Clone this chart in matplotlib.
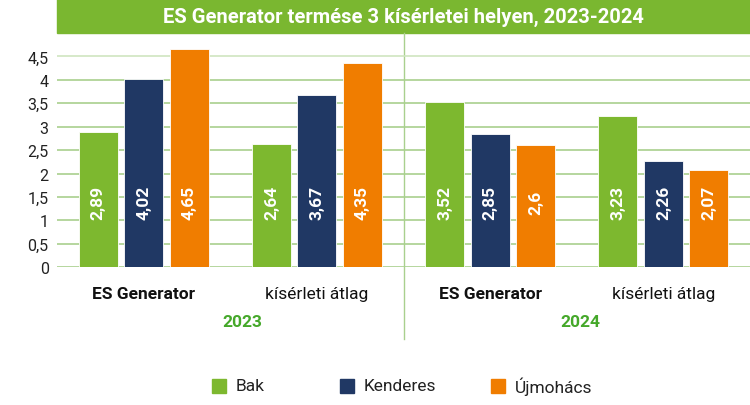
import matplotlib.pyplot as plt
from matplotlib.patches import Rectangle
from matplotlib.transforms import blended_transform_factory
import numpy as np

plt.rcParams['font.family'] = ['Roboto', 'DejaVu Sans']

title = "ES Generator termése 3 kísérletei helyen, 2023-2024"
categories = ["ES Generator", "kísérleti átlag", "ES Generator", "kísérleti átlag"]
years = ["2023", "2024"]
series = ["Bak", "Kenderes", "Újmohács"]
values = {
    "Bak": [2.89, 2.64, 3.52, 3.23],
    "Kenderes": [4.02, 3.67, 2.85, 2.26],
    "Újmohács": [4.65, 4.35, 2.60, 2.07],
}
yticks = [0, 0.5, 1, 1.5, 2, 2.5, 3, 3.5, 4, 4.5]

colors = ["#7db82f", "#203864", "#f07d00"]
green_title = "#7ab730"
grid_color = "#a9d08e"
year_color = "#45a82a"

W, H = 750, 406
fig = plt.figure(figsize=(W / 100, H / 100), dpi=100)
ax = fig.add_axes([57 / W, 1 - 268.3 / H, 1 - 57 / W, 225 / H])

x = np.arange(len(categories))
bw = 0.225
step = 0.262
for i, name in enumerate(series):
    xs = x + (i - 1) * step
    ax.bar(xs, values[name], width=bw, color=colors[i], edgecolor="white",
           linewidth=0.6, zorder=3)
    for xx, v in zip(xs, values[name]):
        lab = f"{v:g}".replace(".", ",")
        ax.text(xx, 1.4, lab, rotation=90, ha="center", va="center",
                color="white", fontsize=12.5, fontweight="bold", zorder=4)

ax.set_xlim(-0.5, 3.5)
ax.set_ylim(0, 4.8)
ax.set_yticks(yticks)
ax.set_yticklabels([f"{t:g}".replace(".", ",") for t in yticks], fontsize=11.5, color="#222222")
ax.tick_params(axis="y", length=0, pad=6)
ax.set_xticks([])
ax.grid(axis="y", color=grid_color, linewidth=1.2, zorder=0)
ax.get_ygridlines()[-1].set_color("#cfe5c0")
for s in ax.spines.values():
    s.set_visible(False)

# separator between years
tr_v = blended_transform_factory(ax.transData, fig.transFigure)
ax.plot([1.5, 1.5], [1 - 340 / H, 1 - 34 / H], transform=tr_v, color=grid_color,
        linewidth=1, clip_on=False, zorder=1)

# category and year labels
for i, c in enumerate(categories):
    fig.text(x[i], 1 - 295 / H, c, transform=tr_v, ha="center", va="center",
             fontsize=12.5, fontweight="bold" if i % 2 == 0 else "normal", color="#111111")
year_x = [242, 580]
for j, yr in enumerate(years):
    fig.text(year_x[j] / W, 1 - 323 / H, yr, ha="center", va="center",
             fontsize=12.5, fontweight="bold", color=year_color)

# title banner
fig.add_artist(Rectangle((57 / W, 1 - 34 / H), 1 - 57 / W, 34 / H,
                         transform=fig.transFigure, color=green_title, zorder=0))
fig.text((57 + 750) / 2 / W, 1 - 17 / H, title, ha="center", va="center",
         fontsize=14.5, fontweight="bold", color="white")

# legend
leg_x = [212, 340, 491]
for i, name in enumerate(series):
    fig.add_artist(Rectangle((leg_x[i] / W, 1 - 394 / H), 14 / W, 14 / H,
                             transform=fig.transFigure, color=colors[i]))
    fig.text((leg_x[i] + 24) / W, 1 - 387 / H, name, ha="left", va="center",
             fontsize=12.5, color="#222222")

fig.savefig("out.png", dpi=100)
